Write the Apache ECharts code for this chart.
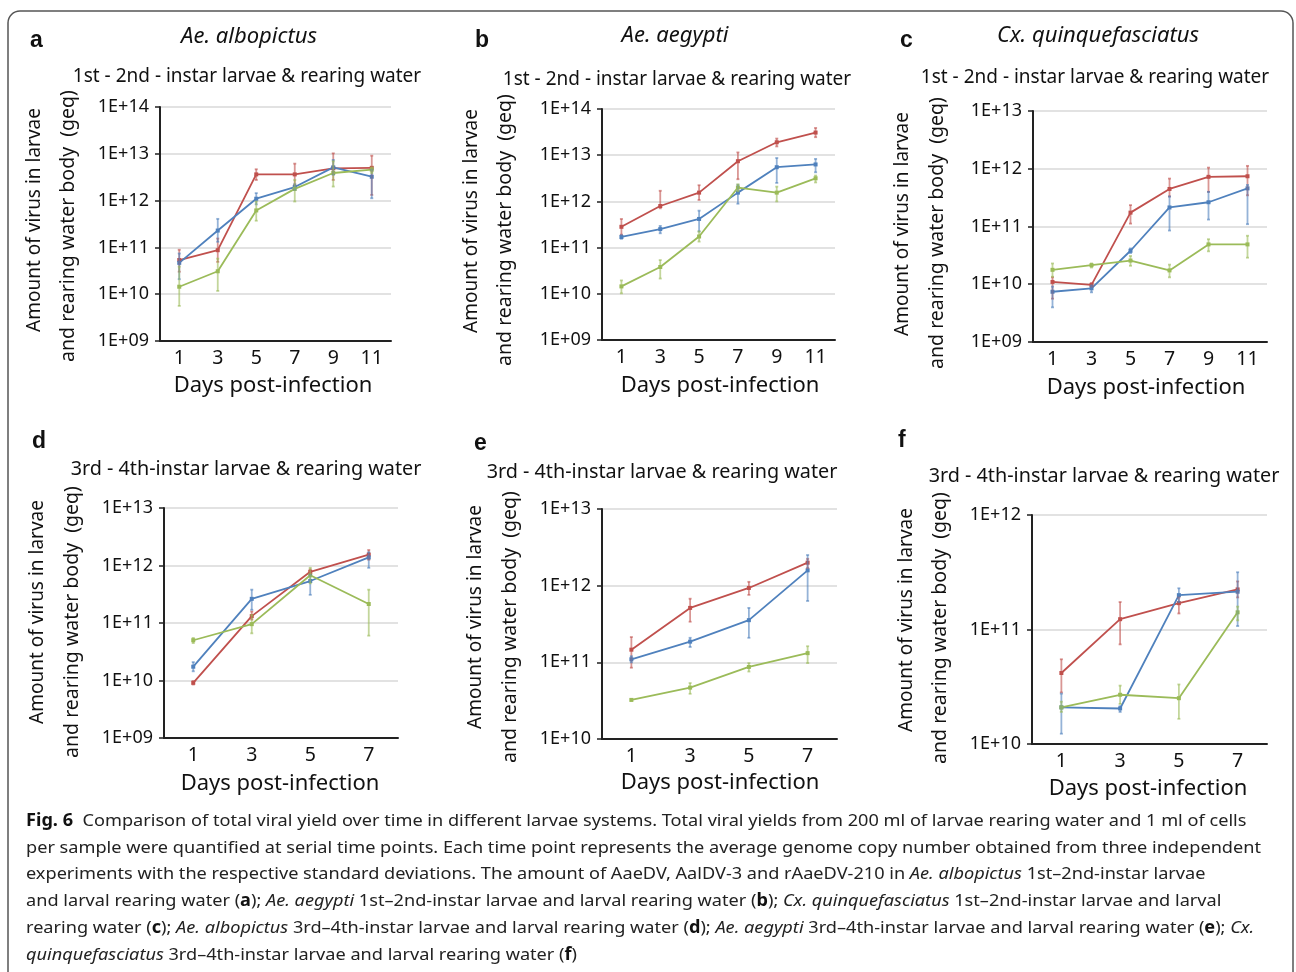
<!DOCTYPE html>
<html>
<head>
<meta charset="utf-8">
<script src="https://cdn.jsdelivr.net/npm/echarts@6/dist/echarts.min.js"></script>
<style>
  html, body { margin: 0; background: #fff; }
  #chart { width: 1296px; height: 972px; }
</style>
</head>
<body>
<div id="chart"></div>
<script>
// values are log10(geq)
const days6 = ["1", "3", "5", "7", "9", "11"];
const days4 = ["1", "3", "5", "7"];

const aRed = [10.73, 10.94, 12.56, 12.56, 12.69, 12.7];
const aRedLo = [10.48, 10.69, 12.44, 12.34, 12.44, 12.12];
const aRedHi = [10.95, 11.19, 12.67, 12.79, 13.01, 12.96];
const aBlue = [10.67, 11.36, 12.04, 12.29, 12.71, 12.51];
const aBlueLo = [10.32, 11.12, 11.92, 12.23, 12.55, 12.05];
const aBlueHi = [10.87, 11.61, 12.16, 12.35, 12.87, 12.66];
const aGreen = [10.16, 10.49, 11.79, 12.25, 12.59, 12.66];
const aGreenLo = [9.75, 10.07, 11.57, 11.98, 12.3, 12.59];
const aGreenHi = [10.59, 10.76, 11.98, 12.44, 12.84, 12.71];

const bRed = [11.45, 11.9, 12.19, 12.87, 13.28, 13.49];
const bRedLo = [11.28, 11.85, 12.03, 12.48, 13.19, 13.39];
const bRedHi = [11.62, 12.23, 12.35, 13.06, 13.36, 13.59];
const bBlue = [11.23, 11.4, 11.62, 12.19, 12.74, 12.8];
const bBlueLo = [11.19, 11.31, 11.35, 11.95, 12.4, 12.63];
const bBlueHi = [11.27, 11.47, 11.8, 12.36, 12.94, 12.92];
const bGreen = [10.16, 10.58, 11.24, 12.3, 12.19, 12.5];
const bGreenLo = [10.01, 10.33, 11.13, 12.22, 12.0, 12.41];
const bGreenHi = [10.29, 10.73, 11.35, 12.37, 12.32, 12.56];

const cRed = [10.04, 9.99, 11.24, 11.65, 11.86, 11.87];
const cRedLo = [9.75, 9.96, 11.05, 11.52, 11.6, 11.54];
const cRedHi = [10.12, 10.02, 11.37, 11.83, 12.02, 12.05];
const cBlue = [9.87, 9.93, 10.58, 11.33, 11.42, 11.66];
const cBlueLo = [9.6, 9.86, 10.54, 10.93, 11.12, 11.04];
const cBlueHi = [9.96, 9.98, 10.62, 11.52, 11.6, 11.72];
const cGreen = [10.25, 10.33, 10.41, 10.24, 10.69, 10.69];
const cGreenLo = [10.13, 10.29, 10.32, 10.12, 10.57, 10.46];
const cGreenHi = [10.36, 10.36, 10.49, 10.34, 10.78, 10.84];

const dRed = [9.96, 11.12, 11.89, 12.19];
const dRedLo = [9.93, 11.06, 11.85, 12.1];
const dRedHi = [9.99, 11.2, 11.93, 12.27];
const dBlue = [10.24, 11.42, 11.73, 12.14];
const dBlueLo = [10.16, 11.23, 11.49, 11.96];
const dBlueHi = [10.32, 11.58, 11.84, 12.23];
const dGreen = [10.7, 10.98, 11.83, 11.33];
const dGreenLo = [10.65, 10.82, 11.69, 10.78];
const dGreenHi = [10.74, 11.14, 11.96, 11.58];

const eRed = [11.165, 11.71, 11.97, 12.3];
const eRedLo = [10.93, 11.53, 11.88, 12.23];
const eRedHi = [11.33, 11.83, 12.05, 12.35];
const eBlue = [11.04, 11.27, 11.55, 12.2];
const eBlueLo = [11.0, 11.2, 11.32, 11.8];
const eBlueHi = [11.08, 11.32, 11.71, 12.4];
const eGreen = [10.51, 10.67, 10.94, 11.12];
const eGreenLo = [10.5, 10.59, 10.88, 10.99];
const eGreenHi = [10.52, 10.73, 10.99, 11.21];

const fRed = [10.62, 11.09, 11.23, 11.35];
const fRedLo = [10.45, 10.87, 11.14, 11.28];
const fRedHi = [10.74, 11.24, 11.28, 11.42];
const fBlue = [10.32, 10.31, 11.3, 11.33];
const fBlueLo = [10.09, 10.28, 11.24, 11.03];
const fBlueHi = [10.44, 10.33, 11.36, 11.5];
const fGreen = [10.32, 10.43, 10.4, 11.15];
const fGreenLo = [10.28, 10.35, 10.22, 11.08];
const fGreenHi = [10.37, 10.51, 10.52, 11.2];

const RED = "#c0504d";
const BLUE = "#4f81bd";
const GREEN = "#9bbb59";
const FONT = "Noto Sans";

const panels = [
  { letter: "a", species: "Ae. albopictus", sub: "1st - 2nd - instar larvae & rearing water",
    grid: [160, 107, 231, 234], days: days6, yMin: 9, yMax: 14,
    lines: [[aRed, aRedLo, aRedHi], [aBlue, aBlueLo, aBlueHi], [aGreen, aGreenLo, aGreenHi]],
    letterXY: [38, 42], speciesXY: [249, 37], subXY: [247, 77], titleX: [35, 68], titleY: [220, 226], daysXY: [273, 386] },
  { letter: "b", species: "Ae. aegypti", sub: "1st - 2nd - instar larvae & rearing water",
    grid: [602, 109, 233, 231], days: days6, yMin: 9, yMax: 14,
    lines: [[bRed, bRedLo, bRedHi], [bBlue, bBlueLo, bBlueHi], [bGreen, bGreenLo, bGreenHi]],
    letterXY: [483, 42], speciesXY: [675, 36], subXY: [677, 80], titleX: [472, 505], titleY: [221, 230], daysXY: [720, 386] },
  { letter: "c", species: "Cx. quinquefasciatus", sub: "1st - 2nd - instar larvae & rearing water",
    grid: [1033, 111, 234, 231], days: days6, yMin: 9, yMax: 13,
    lines: [[cRed, cRedLo, cRedHi], [cBlue, cBlueLo, cBlueHi], [cGreen, cGreenLo, cGreenHi]],
    letterXY: [908, 42], speciesXY: [1098, 36], subXY: [1095, 78], titleX: [903, 937], titleY: [224, 233], daysXY: [1146, 388] },
  { letter: "d", species: "", sub: "3rd - 4th-instar larvae & rearing water",
    grid: [164, 508, 234, 230], days: days4, yMin: 9, yMax: 13,
    lines: [[dRed, dRedLo, dRedHi], [dBlue, dBlueLo, dBlueHi], [dGreen, dGreenLo, dGreenHi]],
    letterXY: [40, 443], speciesXY: null, subXY: [246, 469], titleX: [38, 72], titleY: [612, 622], daysXY: [280, 784] },
  { letter: "e", species: "", sub: "3rd - 4th-instar larvae & rearing water",
    grid: [602, 509, 235, 230], days: days4, yMin: 10, yMax: 13,
    lines: [[eRed, eRedLo, eRedHi], [eBlue, eBlueLo, eBlueHi], [eGreen, eGreenLo, eGreenHi]],
    letterXY: [482, 445], speciesXY: null, subXY: [662, 472], titleX: [476, 510], titleY: [617, 627], daysXY: [720, 783] },
  { letter: "f", species: "", sub: "3rd - 4th-instar larvae & rearing water",
    grid: [1032, 515, 235, 229], days: days4, yMin: 10, yMax: 12,
    lines: [[fRed, fRedLo, fRedHi], [fBlue, fBlueLo, fBlueHi], [fGreen, fGreenLo, fGreenHi]],
    letterXY: [906, 442], speciesXY: null, subXY: [1104, 476], titleX: [907, 940], titleY: [620, 628], daysXY: [1148, 789] },
];

const captionLines = [
  "{b|Fig. 6}  Comparison of total viral yield over time in different larvae systems. Total viral yields from 200 ml of larvae rearing water and 1 ml of cells",
  "per sample were quantified at serial time points. Each time point represents the average genome copy number obtained from three independent",
  "experiments with the respective standard deviations. The amount of AaeDV, AalDV-3 and rAaeDV-210 in {i|Ae. albopictus} 1st\u20132nd-instar larvae",
  "and larval rearing water ({b|a}); {i|Ae. aegypti} 1st\u20132nd-instar larvae and larval rearing water ({b|b}); {i|Cx. quinquefasciatus} 1st\u20132nd-instar larvae and larval",
  "rearing water ({b|c}); {i|Ae. albopictus} 3rd\u20134th-instar larvae and larval rearing water ({b|d}); {i|Ae. aegypti} 3rd\u20134th-instar larvae and larval rearing water ({b|e}); {i|Cx.}",
  "{i|quinquefasciatus} 3rd\u20134th-instar larvae and larval rearing water ({b|f})",
];

const colors = [RED, BLUE, GREEN];
const toGeq = (arr) => arr.map((v) => Math.pow(10, v));

function expLabel(value) {
  const e = Math.round(Math.log10(value));
  return "1E+" + String(e).padStart(2, "0");
}

function errorSeries(idx, color, lo, hi) {
  return {
    type: "custom",
    xAxisIndex: idx,
    yAxisIndex: idx,
    z: 3,
    silent: true,
    data: lo.map((l, i) => [i, Math.pow(10, l), Math.pow(10, hi[i])]),
    renderItem: function (params, api) {
      const p1 = api.coord([api.value(0), api.value(1)]);
      const p2 = api.coord([api.value(0), api.value(2)]);
      const st = { stroke: color, lineWidth: 1.8, opacity: 0.6 };
      return {
        type: "group",
        children: [
          { type: "line", shape: { x1: p1[0], y1: p1[1], x2: p2[0], y2: p2[1] }, style: st },
          { type: "line", shape: { x1: p1[0] - 1.5, y1: p1[1], x2: p1[0] + 1.5, y2: p1[1] }, style: st },
          { type: "line", shape: { x1: p2[0] - 1.5, y1: p2[1], x2: p2[0] + 1.5, y2: p2[1] }, style: st },
        ],
      };
    },
  };
}

const grids = [];
const xAxes = [];
const yAxes = [];
const series = [];
const graphics = [];

panels.forEach((p, idx) => {
  grids.push({ left: p.grid[0], top: p.grid[1], width: p.grid[2], height: p.grid[3] });
  xAxes.push({
    type: "category",
    gridIndex: idx,
    data: p.days,
    boundaryGap: true,
    axisLine: { lineStyle: { color: "#222", width: 2 } },
    axisTick: { show: false },
    axisLabel: { color: "#111", fontSize: 19.5, fontFamily: FONT, margin: 7 },
  });
  yAxes.push({
    type: "log",
    logBase: 10,
    gridIndex: idx,
    min: Math.pow(10, p.yMin),
    max: Math.pow(10, p.yMax),
    axisLine: { show: true, lineStyle: { color: "#222", width: 2 } },
    axisTick: { show: true, length: 5, lineStyle: { color: "#222", width: 1.5 } },
    axisLabel: { color: "#111", fontSize: 18, fontFamily: FONT, margin: 11, formatter: expLabel },
    splitLine: { show: true, lineStyle: { color: "#d9d9d9", width: 1.5 } },
    minorTick: { show: false },
  });
  p.lines.forEach((trip, k) => {
    series.push({
      type: "line",
      xAxisIndex: idx,
      yAxisIndex: idx,
      data: toGeq(trip[0]),
      symbol: "rect",
      symbolSize: 4,
      z: 2,
      itemStyle: { color: colors[k] },
      lineStyle: { color: colors[k], width: 1.8 },
    });
    series.push(errorSeries(idx, colors[k], trip[1], trip[2]));
  });

  graphics.push({
    type: "text", left: p.letterXY[0] - 8, top: p.letterXY[1] - 13,
    style: { text: p.letter, font: "bold 23px 'Liberation Sans'", fill: "#111" },
  });
  if (p.speciesXY) {
    graphics.push({
      type: "text", x: p.speciesXY[0], y: p.speciesXY[1],
      style: { text: p.species, font: "italic 22px " + FONT, fill: "#111", align: "center", verticalAlign: "middle" },
    });
  }
  graphics.push({
    type: "text", x: p.subXY[0], y: p.subXY[1],
    style: { text: p.sub, font: (idx < 3 ? "19px " : "19.8px ") + FONT, fill: "#111", align: "center", verticalAlign: "middle" },
  });
  graphics.push({
    type: "text", x: p.titleX[0], y: p.titleY[0], rotation: Math.PI / 2,
    style: { text: "Amount of virus in larvae", font: "19px " + FONT, fill: "#111", align: "center", verticalAlign: "middle" },
  });
  graphics.push({
    type: "text", x: p.titleX[1], y: p.titleY[1], rotation: Math.PI / 2,
    style: { text: "and rearing water body  (geq)", font: "19.5px " + FONT, fill: "#111", align: "center", verticalAlign: "middle" },
  });
  graphics.push({
    type: "text", x: p.daysXY[0], y: p.daysXY[1],
    style: { text: "Days post-infection", font: "22px " + FONT, fill: "#111", align: "center", verticalAlign: "middle" },
  });
});

// squeeze caption to the width of the original lines
const ctx = document.createElement("canvas").getContext("2d");
ctx.font = "17px " + FONT;
const capScale = 1235 / ctx.measureText(captionLines[1]).width;

captionLines.forEach((line, i) => {
  graphics.push({
    type: "text", x: 26, y: 821 + i * 26.8, scaleX: capScale,
    style: {
      text: line,
      font: "17px " + FONT,
      fill: "#222",
      verticalAlign: "middle",
      rich: {
        b: { fontFamily: FONT, fontSize: 17, fontWeight: "bold", fill: "#111" },
        i: { fontFamily: FONT, fontSize: 17, fontStyle: "italic", fill: "#222" },
      },
    },
  });
});

graphics.push({
  type: "rect", z: -1,
  shape: { x: 8, y: 11, width: 1285, height: 1000, r: 12 },
  style: { fill: "none", stroke: "#555", lineWidth: 1.5 },
});

const chart = echarts.init(document.getElementById("chart"));
chart.setOption({
  backgroundColor: "#fff",
  animation: false,
  grid: grids,
  xAxis: xAxes,
  yAxis: yAxes,
  series: series,
  graphic: graphics,
});
</script>
</body>
</html>
